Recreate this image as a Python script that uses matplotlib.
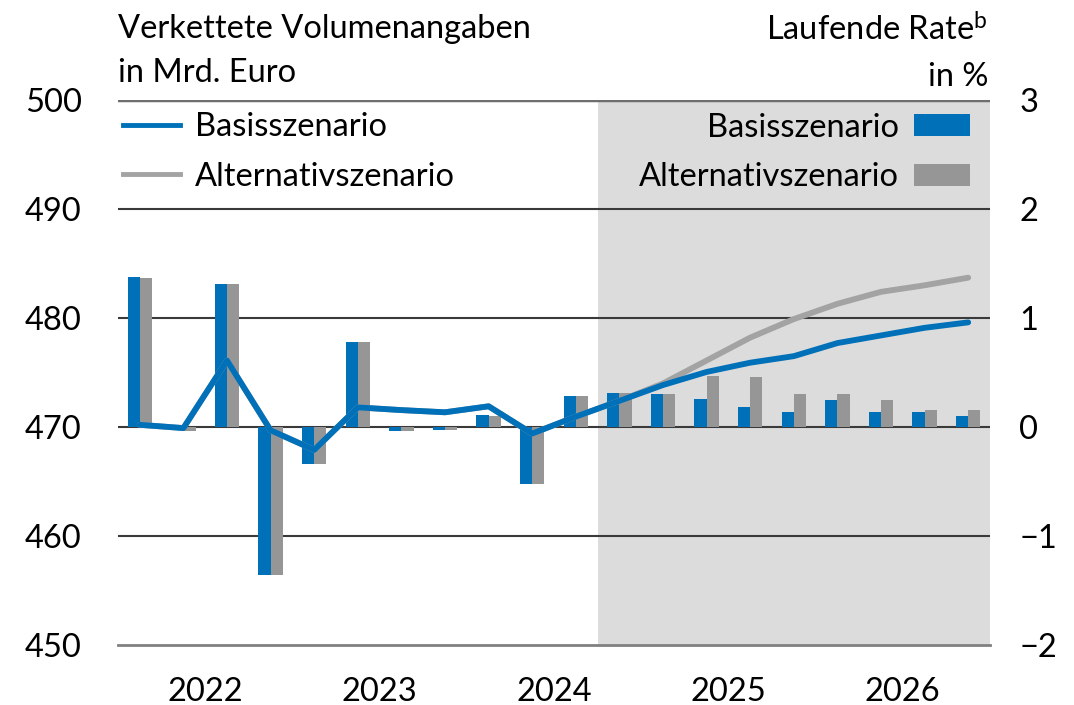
import matplotlib
matplotlib.use('Agg')
import matplotlib.pyplot as plt
from matplotlib.lines import Line2D
from matplotlib.patches import Patch
import numpy as np

plt.rcParams['font.family'] = ['Lato', 'DejaVu Sans']
plt.rcParams['mathtext.default'] = 'regular'
fs = 23.5

# Quartale 2022Q1 .. 2026Q4
jahre = ['2022', '2023', '2024', '2025', '2026']

# Niveau (Mrd. Euro, linke Achse)
niveau_basis = [470.2, 469.9, 476.1, 469.7, 467.9, 471.8, 471.55, 471.35, 471.9, 469.4,
                470.95, 472.4, 473.85, 475.05, 475.9, 476.5, 477.7, 478.4, 479.1, 479.6]
niveau_alt = [470.2, 469.9, 476.1, 469.7, 467.9, 471.8, 471.55, 471.35, 471.9, 469.4,
              470.95, 472.4, 474.0, 476.1, 478.2, 479.9, 481.3, 482.4, 483.0, 483.7]

# Laufende Rate in % (rechte Achse)
rate_basis = [1.38, -0.03, 1.31, -1.36, -0.34, 0.78, -0.04, -0.03, 0.11, -0.52,
              0.28, 0.31, 0.30, 0.26, 0.18, 0.14, 0.25, 0.14, 0.14, 0.10]
rate_alt = [1.37, -0.04, 1.31, -1.36, -0.34, 0.78, -0.04, -0.03, 0.10, -0.52,
            0.28, 0.31, 0.30, 0.47, 0.46, 0.30, 0.30, 0.25, 0.16, 0.16]

blau = '#0070b8'
grau_bar = '#969696'
grau_linie = '#a3a3a3'

x = np.arange(len(rate_basis))
w = 0.28

fig = plt.figure(figsize=(10.74, 7.05), dpi=100)
ax = fig.add_axes([118 / 1074, 1 - 645 / 705, 872 / 1074, 545 / 705])
ax2 = ax.twinx()

# Prognosezeitraum schattiert
ax.axvspan(10.5, 19.5, color='#dcdcdc', lw=0, zorder=0)

# Balken (rechte Skala)
ax.bar(x - w / 2, rate_basis, width=w, color=blau, lw=0, zorder=3)
ax.bar(x + w / 2, rate_alt, width=w, color=grau_bar, lw=0, zorder=3)
ax.set_ylim(-2, 3)
ax.set_xlim(-0.5, 19.5)

# Gitternetz
for v in [-1, 0, 1, 2]:
    ax.axhline(v, color='#3a3a3a', lw=1.5, zorder=2)
ax.axhline(3, color='#6e6e6e', lw=2.5, zorder=2)

# Linien (linke Skala)
ax2.plot(x, niveau_alt, color=grau_linie, lw=4.2, solid_capstyle='round', zorder=4)
ax2.plot(x, niveau_basis, color=blau, lw=4.2, solid_capstyle='round', zorder=5)
ax2.set_ylim(450, 500)

# Achsen tauschen: Niveau links, Rate rechts
ax2.yaxis.tick_left()
ax.yaxis.tick_right()
ax2.set_yticks([450, 460, 470, 480, 490, 500])
ax.set_yticks([-2, -1, 0, 1, 2, 3])
ax.set_yticklabels(['\u22122', '\u22121', '0', '1', '2', '3'])
ax.tick_params(axis='y', length=0, pad=21, labelsize=fs)
ax2.tick_params(axis='y', length=0, pad=26, labelsize=fs)

for s in ['left', 'right', 'top']:
    ax.spines[s].set_visible(False)
    ax2.spines[s].set_visible(False)
ax2.spines['bottom'].set_visible(False)
ax.spines['bottom'].set_color('#808080')
ax.spines['bottom'].set_linewidth(2)
ax.spines['bottom'].set_zorder(6)

# x-Achse: Striche an Jahresgrenzen, Beschriftung mittig
ax.set_xticks([-0.5, 3.5, 7.5, 11.5, 15.5, 19.5])
ax.set_xticklabels([])
ax.set_xticks([1.5, 5.5, 9.5, 13.5, 17.5], minor=True)
ax.set_xticklabels(jahre, minor=True)
ax.tick_params(axis='x', which='major', length=7, width=1.5, color='#808080', direction='out')
ax.tick_params(axis='x', which='minor', length=0, pad=23, labelsize=fs)
ax2.set_xticks([])

# Legenden
h_links = [Line2D([], [], color=blau, lw=3.5),
           Line2D([], [], color=grau_linie, lw=3.5)]
leg1 = ax2.legend(h_links, ['Basisszenario', 'Alternativszenario'], loc='upper left',
                  bbox_to_anchor=(0.006, 0.978), frameon=False, fontsize=fs,
                  handlelength=1.75, handletextpad=0.45, labelspacing=0.6,
                  borderpad=0, borderaxespad=0)
ax2.add_artist(leg1)
h_rechts = [Patch(color=blau, lw=0), Patch(color=grau_bar, lw=0)]
ax2.legend(h_rechts, ['Basisszenario', 'Alternativszenario'], loc='upper right',
           bbox_to_anchor=(0.977, 0.977), frameon=False, fontsize=fs,
           handlelength=1.72, handleheight=0.66, handletextpad=0.45, labelspacing=0.6,
           markerfirst=False, borderpad=0, borderaxespad=0)

# Achsentitel
fig.text(118 / 1074, 1 - 14 / 705, 'Verkettete Volumenangaben\nin Mrd. Euro',
         ha='left', va='top', fontsize=fs, linespacing=1.6)
fig.text(988 / 1074, 1 - 14 / 705, 'Laufende Rate$^{b}$\nin %',
         ha='right', va='top', fontsize=fs, linespacing=1.6)

fig.savefig('out.png', dpi=100)
